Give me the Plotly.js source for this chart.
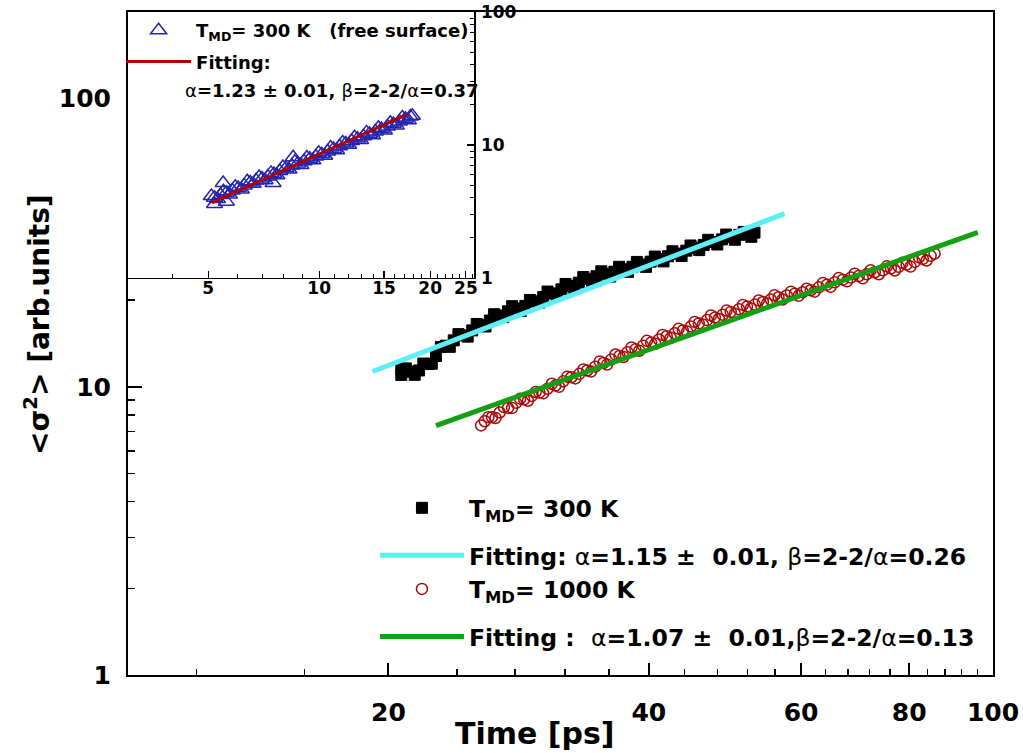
<!DOCTYPE html>
<html>
<head>
<meta charset="utf-8">
<script src="https://cdn.plot.ly/plotly-3.0.1.min.js"></script>
<style>html,body{margin:0;padding:0;background:#fff;}#chart{width:1023px;height:753px;}</style>
</head>
<body>
<div id="chart"></div>
<script>
// ---- main panel data ----
const t300 = [20.7,20.7,21.2,21.7,22.2,22.7,23.3,23.8,24.4,25.0,25.6,26.2,26.8,27.5,28.1,28.8,29.5,30.2,30.9,31.7,32.4,33.2,34.0,34.8,35.7,36.5,37.4,38.3,39.2,40.2,41.1,42.1,43.1,44.2,45.2,46.3,47.4,48.6,49.7,50.9,52.1,53.0,
  20.95,21.45,21.95,22.45,23.0,23.55,24.1,24.7,25.3,25.9,26.5,27.15,27.8,28.45,29.15,29.85,30.55,31.3,32.05,32.8,33.6,34.4,35.25,36.1,36.95,37.85,38.75,39.7,40.65,41.6,42.6,43.65,44.7,45.75,46.85,48.0,49.15,50.3,51.5,52.55];
const s300 = [11.0,11.5,11.3,11.4,12.0,12.8,13.9,14.5,15.1,15.7,16.4,17.0,17.7,18.3,18.7,19.1,19.8,20.5,21.1,21.8,22.4,23.0,23.7,24.2,24.7,25.1,25.6,26.1,26.6,27.2,27.8,28.4,29.0,29.7,30.4,31.1,31.8,32.5,33.1,33.7,34.1,34.3,
  11.59,11.01,12.05,12.03,13.75,13.77,15.24,14.94,16.53,16.20,17.87,17.46,19.06,18.33,20.03,19.55,21.42,20.81,22.76,22.02,24.05,23.23,25.18,24.15,26.11,25.07,27.14,26.09,28.33,27.26,29.56,28.47,30.95,29.83,32.39,31.19,33.78,32.40,34.50,33.17];

const t1000 = [25.6,26.1,26.6,27.2,27.8,28.4,29.0,29.6,30.2,30.9,31.5,32.2,32.9,33.6,34.3,35.1,35.8,36.6,37.4,38.2,39.0,39.8,40.7,41.5,42.4,43.3,44.3,45.2,46.2,47.2,48.2,49.2,50.3,51.4,52.5,53.6,54.8,55.9,57.1,58.4,59.6,60.9,62.2,63.6,64.9,66.3,67.8,69.2,70.7,72.2,73.8,75.4,77.0,78.6,80.3,82.1,83.8,85.6,
  25.85,26.35,26.9,27.5,28.1,28.7,29.3,29.9,30.55,31.2,31.85,32.55,33.25,33.95,34.7,35.45,36.2,37.0,37.8,38.6,39.4,40.25,41.1,41.95,42.85,43.8,44.75,45.7,46.7,47.7,48.7,49.75,50.85,51.95,53.05,54.2,55.35,56.5,57.75,59.0,60.25,61.55,62.9,64.25,65.6,67.05,68.5,69.95,71.45,73.0,74.6,76.2,77.8,79.45,81.2,82.95,84.7];
const s1000 = [7.35,7.85,7.80,8.50,8.45,9.10,8.95,9.60,9.50,10.25,10.00,10.85,10.70,11.50,11.30,12.25,11.95,12.95,12.70,13.70,13.35,14.45,14.10,15.15,14.80,15.90,15.55,16.80,16.45,17.70,17.20,18.40,17.95,19.25,18.70,19.95,19.45,20.80,20.10,21.40,20.70,21.90,21.40,22.95,22.25,23.85,23.25,24.70,23.80,25.40,24.60,26.20,25.35,26.95,26.15,28.15,27.45,29.00,
  7.60,7.85,8.15,8.45,8.80,9.05,9.30,9.55,9.85,10.10,10.45,10.80,11.10,11.40,11.75,12.10,12.45,12.80,13.20,13.50,13.90,14.25,14.60,15.00,15.35,15.70,16.20,16.60,17.05,17.40,17.80,18.20,18.60,19.00,19.30,19.70,20.10,20.45,20.75,21.05,21.30,21.65,22.15,22.60,23.05,23.55,23.95,24.25,24.60,25.00,25.40,25.80,26.10,26.55,27.15,27.80,28.50];

const fit300X = [19.17, 57.42];
const fit300Y = [11.31, 39.93];
const fit1000X = [22.70, 96.03];
const fit1000Y = [7.34, 34.38];

// ---- inset data (free surface) ----
const tFree = [5.10,5.30,5.50,5.71,5.92,6.15,6.38,6.62,6.87,7.13,7.40,7.68,7.97,8.28,8.59,8.92,9.26,9.61,9.97,10.35,10.74,11.15,11.58,12.02,12.47,12.95,13.44,13.95,14.48,15.03,15.60,16.19,16.81,17.45,17.90,5.49,7.50,8.50,5.20,5.60,
  5.20,5.40,5.60,5.81,6.03,6.26,6.50,6.74,7.00,7.26,7.54,7.82,8.12,8.43,8.75,9.09,9.43,9.79,10.16,10.54,10.94,11.36,11.80,12.24,12.71,13.19,13.69,14.21,14.75,15.31,15.89,16.50,17.13,17.67];
const sFree = [4.13,3.92,4.49,4.25,4.86,4.63,5.33,5.11,5.75,5.44,6.17,5.92,6.84,6.54,7.47,7.07,8.05,7.69,8.73,8.31,9.56,9.12,10.45,10.03,11.44,10.89,12.44,11.84,13.48,12.84,14.68,14.04,16.09,15.38,16.60,5.18,5.18,8.10,3.60,3.75,
  4.02,4.20,4.37,4.55,4.75,4.97,5.22,5.42,5.60,5.80,6.05,6.37,6.70,7.00,7.27,7.55,7.87,8.20,8.52,8.92,9.35,9.77,10.25,10.72,11.17,11.65,12.15,12.65,13.17,13.75,14.37,15.05,15.75,16.35];
const fitFreeX = [5.12, 17.3];
const fitFreeY = [3.68, 17.0];

// ---- ticks ----
const xTickVals = [20,40,60,80,100];
const xMinorVals = [12,16,24,28,32,36,44,48,52,56,64,68,72,76,84,88,92,96];
const yTickVals = [1,10,100];
const yMinorVals = [2,3,4,5,6,7,8,9,20,30,40,50,60,70,80,90];
const x2TickVals = [5,10,15,20,25];
const x2MinorVals = [4,6,7,8,9,11,12,13,14,16,17,18,19,21,22,23,24,26];
const y2TickVals = [1,10,100];
const y2MinorVals = [2,3,4,5,6,7,8,9,20,30,40,50,60,70,80,90];

const FONT = 'DejaVu Sans, Arial, sans-serif';
const n = s => '<span style="font-weight:normal">' + s + '</span>';

const traces = [
  {x: t300, y: s300, type: 'scatter', mode: 'markers', name: 'T<sub>MD</sub>= 300 K',
   marker: {symbol: 'square', size: 11, color: '#000000', line: {color: '#000000', width: 1}},
   legend: 'legend', legendgroup: 'a'},
  {x: fit300X, y: fit300Y, type: 'scatter', mode: 'lines',
   name: 'Fitting: ' + n('α') + '=1.15 ±  0.01, ' + n('β') + '=2-2/' + n('α') + '=0.26',
   line: {color: '#5cf0f6', width: 5}, legend: 'legend', legendgroup: 'b'},
  {x: t1000, y: s1000, type: 'scatter', mode: 'markers', name: 'T<sub>MD</sub>= 1000 K',
   marker: {symbol: 'circle-open', size: 11, color: '#a80a0a', line: {color: '#a80a0a', width: 1.5}},
   legend: 'legend', legendgroup: 'b'},
  {x: fit1000X, y: fit1000Y, type: 'scatter', mode: 'lines',
   name: 'Fitting :  ' + n('α') + '=1.07 ±  0.01,' + n('β') + '=2-2/' + n('α') + '=0.13',
   line: {color: '#12a012', width: 5}, legend: 'legend', legendgroup: 'c'},
  {x: tFree, y: sFree, type: 'scatter', mode: 'markers', xaxis: 'x2', yaxis: 'y2',
   name: 'T<sub>MD</sub>= 300 K&nbsp;&nbsp;&nbsp;(free surface)',
   marker: {symbol: 'triangle-up-open', size: 14, color: '#2424b0', line: {color: '#2424b0', width: 1.5}},
   legend: 'legend2', legendgroup: 'd'},
  {x: fitFreeX, y: fitFreeY, type: 'scatter', mode: 'lines', xaxis: 'x2', yaxis: 'y2',
   name: 'Fitting:', line: {color: '#b00000', width: 3}, legend: 'legend2', legendgroup: 'e'}
];

const axCommon = {showgrid: false, zeroline: false, showline: true, linecolor: '#000', ticks: 'inside', tickcolor: '#000'};

const layout = {
  width: 1023, height: 753,
  margin: {l: 128, r: 30, t: 12, b: 78},
  paper_bgcolor: '#fff', plot_bgcolor: '#fff',
  showlegend: true,
  font: {family: FONT, color: '#000'},
  xaxis: Object.assign({}, axCommon, {
    type: 'log', range: [1, 2], domain: [0, 1], anchor: 'y',
    linewidth: 2, mirror: true, ticklen: 12, tickwidth: 2,
    tickmode: 'array', tickvals: xTickVals, ticktext: xTickVals.map(String),
    tickfont: {family: FONT, size: 25, weight: 'bold'}, ticklabelstandoff: 14,
    minor: {tickmode: 'array', tickvals: xMinorVals, ticks: 'inside', ticklen: 6, tickwidth: 1.5, tickcolor: '#000'}
  }),
  yaxis: Object.assign({}, axCommon, {
    type: 'log', range: [0, Math.log10(200)], domain: [0, 1], anchor: 'x',
    linewidth: 2, mirror: true, ticklen: 14, tickwidth: 2,
    tickmode: 'array', tickvals: yTickVals, ticktext: yTickVals.map(String),
    tickfont: {family: FONT, size: 25, weight: 'bold'}, ticklabelstandoff: 10,
    minor: {tickmode: 'array', tickvals: yMinorVals, ticks: 'inside', ticklen: 7, tickwidth: 1.5, tickcolor: '#000'}
  }),
  xaxis2: Object.assign({}, axCommon, {
    type: 'log', range: [Math.log10(3.03), Math.log10(26.3)], domain: [0, 0.4], anchor: 'y2',
    linewidth: 1.5, ticklen: 7, tickwidth: 1.2,
    tickmode: 'array', tickvals: x2TickVals, ticktext: x2TickVals.map(String),
    tickfont: {family: FONT, size: 17, weight: 'bold'}, ticklabelstandoff: -6,
    minor: {tickmode: 'array', tickvals: x2MinorVals, ticks: 'inside', ticklen: 4, tickwidth: 1, tickcolor: '#000'}
  }),
  yaxis2: Object.assign({}, axCommon, {
    type: 'log', range: [0, 2], domain: [0.5988, 1], anchor: 'x2', side: 'right',
    linewidth: 1.5, ticklen: 7, tickwidth: 1.2,
    tickmode: 'array', tickvals: y2TickVals, ticktext: y2TickVals.map(String),
    tickfont: {family: FONT, size: 17, weight: 'bold'}, ticklabelstandoff: 2,
    minor: {tickmode: 'array', tickvals: y2MinorVals, ticks: 'inside', ticklen: 4, tickwidth: 1, tickcolor: '#000'}
  }),
  legend: {
    x: 0.2855, y: 0.285, xanchor: 'left', yanchor: 'top',
    bgcolor: 'rgba(0,0,0,0)', borderwidth: 0,
    font: {family: FONT, size: 23.5, weight: 'bold', color: '#000'},
    itemwidth: 84, tracegroupgap: 14, traceorder: 'grouped'
  },
  legend2: {
    x: -0.008, y: 1.0, xanchor: 'left', yanchor: 'top',
    bgcolor: 'rgba(0,0,0,0)', borderwidth: 0,
    font: {family: FONT, size: 18, weight: 'bold', color: '#000'},
    itemwidth: 65, tracegroupgap: 5, traceorder: 'grouped'
  },
  annotations: [
    {xref: 'paper', yref: 'paper', x: 0.0636, y: 0.882, xanchor: 'left', yanchor: 'middle', showarrow: false,
     text: n('α') + '=1.23 ± 0.01, ' + n('β') + '=2-2/' + n('α') + '=0.37',
     font: {family: FONT, size: 18, weight: 'bold', color: '#000'}},
    {xref: 'paper', yref: 'paper', x: -0.104, y: 0.528, xanchor: 'center', yanchor: 'middle', showarrow: false,
     textangle: -90, text: '&lt;σ<sup>2</sup>&gt; [arb.units]',
     font: {family: FONT, size: 28, weight: 'bold', color: '#000'}},
    {xref: 'paper', yref: 'paper', x: 0.4705, y: -0.0875, xanchor: 'center', yanchor: 'middle', showarrow: false,
     text: 'Time [ps]', font: {family: FONT, size: 30, weight: 'bold', color: '#000'}}
  ]
};

Plotly.newPlot('chart', traces, layout, {displayModeBar: false, staticPlot: true});
</script>
</body>
</html>
